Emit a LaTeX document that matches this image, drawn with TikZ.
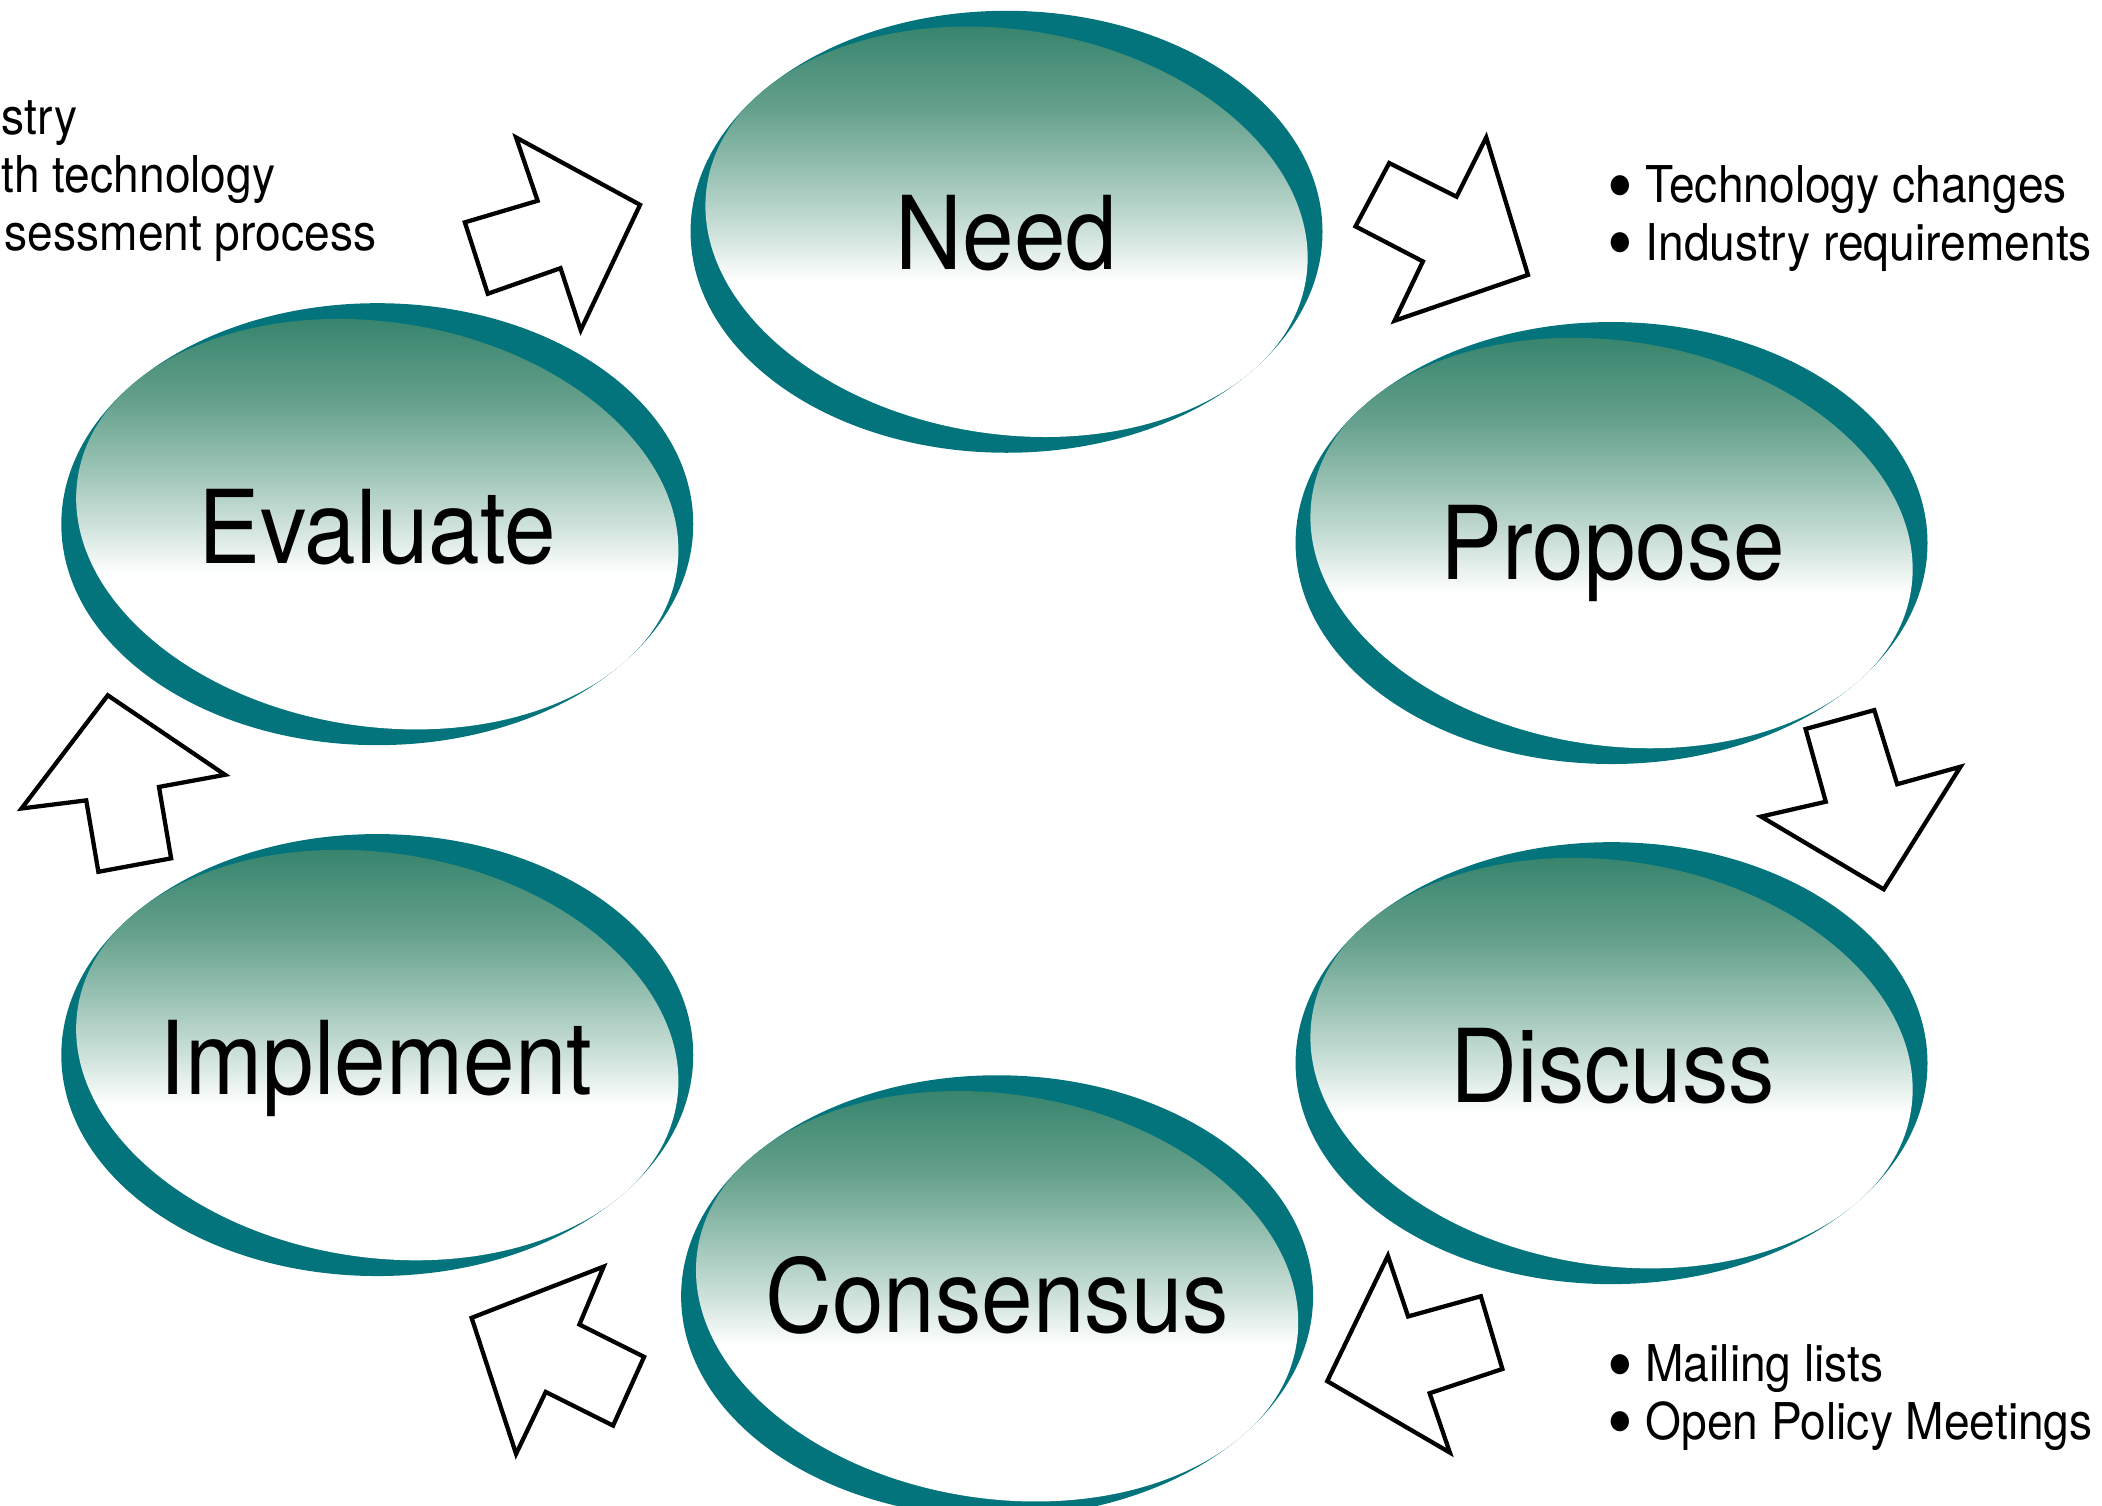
\documentclass[tikz,border=0pt]{standalone}
\usepackage{fontspec}
\setmainfont{TeX Gyre Heros}
\newfontfamily\narrowheros{TeX Gyre Heros}[FakeStretch=0.91]
\newcommand\bigdot{\makebox[0.285cm][l]{\fontsize{17}{17}\selectfont\raisebox{-2.3pt}[0pt][0pt]{\textbullet}}}
\definecolor{ringteal}{RGB}{3,116,124}
\definecolor{gA}{RGB}{55,132,108}
\definecolor{gB}{RGB}{100,160,140}
\definecolor{gC}{RGB}{150,192,178}
\definecolor{gD}{RGB}{205,225,218}
\pgfdeclareverticalshading{ovalshade}{100bp}{color(0bp)=(white); color(44bp)=(white); color(50bp)=(gD); color(57.5bp)=(gC); color(65bp)=(gB); color(75bp)=(gA); color(100bp)=(gA)}
\newcommand\ovalshape[2]{%
  \fill[ringteal] (#1,#2) ellipse [x radius=234.5, y radius=164];
  \begin{scope}
    \clip[rotate around={-9:(#1,#2)}] (#1,#2) ellipse [x radius=225, y radius=150];
    \shade[shading=ovalshade] (#1-240,#2-153) rectangle (#1+240,#2+153);
  \end{scope}}
\begin{document}
\begin{tikzpicture}[x=0.01cm,y=-0.01cm,
  biglabel/.style={inner sep=0pt, anchor=base, font=\narrowheros\fontsize{21.5}{26}\selectfont},
  smalltext/.style={inner sep=0pt, font=\narrowheros\fontsize{10.7}{12.8}\selectfont},
  blockarrow/.style={draw=black, fill=white, line width=0.9pt, line join=miter}]
\useasboundingbox (0,0) rectangle (1560,1117);
\begin{scope}
\clip (0,0) rectangle (1560,1117);
% ovals
\ovalshape{747}{172}
\ovalshape{280}{389}
\ovalshape{1196}{403}
\ovalshape{1196}{789}
\ovalshape{280}{783}
\ovalshape{740}{962}
\node[biglabel] (need) at (747,200) {Need};
\node[biglabel] (evaluate) at (280,418) {Evaluate};
\node[biglabel] (propose) at (1197,430) {Propose};
\node[biglabel] (discuss) at (1197,818) {Discuss};
\node[biglabel] (implement) at (279,812) {Implement};
\node[biglabel] (consensus) at (740,989) {Consensus};
% block arrows
\draw[blockarrow] (475,152) -- (383,102) -- (399,149) -- (345,165) -- (362,218) -- (416,199) -- (431,245) -- cycle;
\draw[blockarrow] (1103,102) -- (1134,204) -- (1035,238) -- (1056,194) -- (1006,168) -- (1031,121) -- (1081,146) -- cycle;
\draw[blockarrow] (1340,541) -- (1391,527) -- (1408,582) -- (1455,569) -- (1398,660) -- (1307,606) -- (1355,595) -- cycle;
\draw[blockarrow] (1030,932) -- (1045,977) -- (1099,962) -- (1115,1016) -- (1061,1034) -- (1076,1078) -- (985,1025) -- cycle;
\draw[blockarrow] (350,978) -- (448,940) -- (430,983) -- (478,1007) -- (455,1058) -- (405,1033) -- (383,1079) -- cycle;
\draw[blockarrow] (80,516) -- (167,575) -- (118,584) -- (127,637) -- (73,647) -- (64,594) -- (16,600) -- cycle;
% side texts
\node[smalltext, anchor=base east] (l1) at (58,100) {ustry};
\node[smalltext, anchor=base east] (l2) at (205,143) {th technology};
\node[smalltext, anchor=base east] (l3) at (280,186) {sessment process};
\node[smalltext, anchor=base west] (r1) at (1192,150) {\bigdot Technology changes};
\node[smalltext, anchor=base west] (r2) at (1192,193) {\bigdot Industry requirements};
\node[smalltext, anchor=base west] (b1) at (1192,1025) {\bigdot Mailing lists};
\node[smalltext, anchor=base west] (b2) at (1192,1068) {\bigdot Open Policy Meetings};
\end{scope}
\end{tikzpicture}
\end{document}
